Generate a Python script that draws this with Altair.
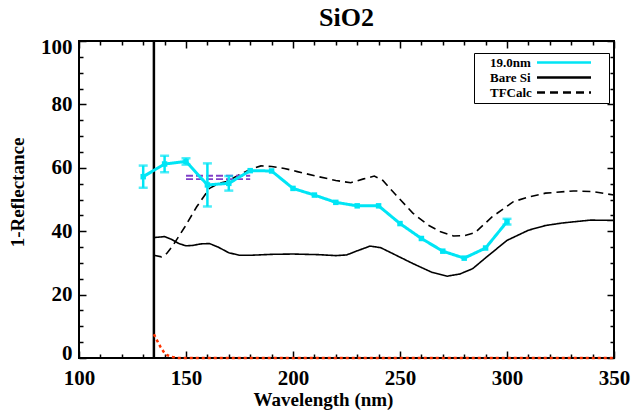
import altair as alt
import pandas as pd

FONT = "Liberation Serif"
W, H = 535, 317

# ---- data ----
series_names = ["19.0nm", "Bare Si", "TFCalc"]

meas_wl = [130, 140, 150, 160, 170, 180, 190, 200, 210, 220, 230, 240, 250, 260, 270, 280, 290, 300]
meas_val = [57.2, 61.2, 62.0, 54.6, 55.1, 59.1, 59.0, 53.5, 51.4, 49.1, 48.0, 48.0, 42.4, 37.7, 33.7, 31.5, 34.7, 43.0]
meas_err = [3.5, 2.6, 1.0, 6.8, 2.3, 0, 0, 0, 0, 0, 0, 0, 0, 0, 0, 0, 0, 0.9]

bare_wl = [135, 137, 140, 143, 147, 150, 153, 157, 161, 165, 170, 175, 180, 190, 200, 212, 220, 225,
           230, 236, 241, 250, 256, 265, 272, 278, 284, 290, 300, 310, 318, 326, 339, 350]
bare_val = [38.0, 38.1, 38.3, 37.5, 36.0, 35.4, 35.5, 36.0, 36.1, 35.0, 33.2, 32.4, 32.4, 32.7, 32.8, 32.6, 32.3, 32.5,
            33.8, 35.3, 34.8, 31.8, 29.8, 27.0, 25.8, 26.5, 28.2, 31.6, 37.1, 40.3, 41.8, 42.6, 43.5, 43.4]

tf_wl = [135, 138.5, 141, 144, 149.5, 155, 161, 165, 169, 175, 180, 185, 190, 196, 202, 212, 220, 227,
         233, 238, 242, 248, 256, 263, 269, 275, 280, 285, 293, 303, 310, 318, 331, 340, 350]
tf_val = [32.4, 31.9, 33.0, 35.6, 41.4, 47.7, 53.5, 55.0, 55.7, 57.8, 59.5, 60.6, 60.4, 59.8, 58.8, 57.2, 56.0, 55.3,
          56.5, 57.4, 56.0, 51.5, 45.7, 42.0, 39.8, 38.5, 38.6, 39.5, 44.5, 49.3, 50.8, 52.0, 52.7, 52.5, 51.4]

red_wl = [135, 136.5, 138, 139.5, 141, 143, 146, 350]
red_val = [7.5, 5.5, 3.6, 2.0, 1.0, 0.4, 0.0, 0.0]

purple_wl = [150, 180]
purple_hi = [57.5, 57.5]
purple_lo = [56.4, 56.4]

cutoff_wl = [135]

x_major = [100, 150, 200, 250, 300, 350]
x_minor = [110, 120, 130, 140, 160, 170, 180, 190, 210, 220, 230, 240, 260, 270, 280, 290, 310, 320, 330, 340]
y_major = [0, 20, 40, 60, 80, 100]
y_minor = [5, 10, 15, 25, 30, 35, 45, 50, 55, 65, 70, 75, 85, 90, 95]

# ---- tables ----
meas_df = pd.DataFrame({"wl": meas_wl, "val": meas_val, "err": meas_err, "series": series_names[0]})
meas_df["lo"] = meas_df["val"] - meas_df["err"]
meas_df["hi"] = meas_df["val"] + meas_df["err"]
err_df = meas_df[meas_df["err"] > 0]
bare_df = pd.DataFrame({"wl": bare_wl, "val": bare_val, "series": series_names[1]})
tf_df = pd.DataFrame({"wl": tf_wl, "val": tf_val, "series": series_names[2]})
red_df = pd.DataFrame({"wl": red_wl, "val": red_val})
purple_df = pd.concat([
    pd.DataFrame({"wl": purple_wl, "val": purple_hi, "edge": "hi"}),
    pd.DataFrame({"wl": purple_wl, "val": purple_lo, "edge": "lo"}),
])
cut_df = pd.DataFrame({"wl": cutoff_wl})

xs = alt.Scale(domain=[100, 350], nice=False, zero=False)
ys = alt.Scale(domain=[0, 100], nice=False, zero=False)


def tick_axis(orient, offset, values, size):
    return alt.Axis(orient=orient, offset=offset, values=values, tickSize=size, tickWidth=1.5,
                    tickColor="black", labels=False, domain=False, grid=False, title="")


x_label_axis = alt.Axis(orient="bottom", values=x_major, ticks=False, domain=False, grid=False,
                        labelPadding=9, labelFlush=False, title="Wavelength (nm)",
                        titleX=244, titleY=47, titleAlign="center", titleBaseline="alphabetic")
y_label_axis = alt.Axis(orient="left", values=y_major, ticks=False, domain=False, grid=False,
                        labelPadding=7, labelFlush=True, labelFlushOffset=5, title="1-Reflectance",
                        titleX=-56, titleY=151, titleAngle=270, titleAlign="center",
                        titleBaseline="alphabetic")

# legend: labels on the left, line samples on the right (drawn by a custom symbol path)
legend = alt.Legend(orient="none", legendX=395, legendY=12, title=None, strokeColor="black",
                    padding=3, symbolType="M53.5,0H107.5M117,0", symbolSize=4, symbolOffset=0,
                    symbolStrokeWidth=2.5, labelOffset=0, labelFont=FONT, labelFontSize=13,
                    labelFontWeight="bold", labelColor="black", rowPadding=1)
color_enc = alt.Color("series:N", scale=alt.Scale(domain=series_names, range=["#00e5f5", "black", "black"]),
                      legend=legend)
dash_enc = alt.StrokeDash("series:N", scale=alt.Scale(domain=series_names, range=[[1, 0], [1, 0], [8, 5]]),
                          legend=legend)

cut = alt.Chart(cut_df).mark_rule(color="black", strokeWidth=2.5).encode(
    x=alt.X("wl:Q", scale=xs, axis=x_label_axis),
    y=alt.value(0), y2=alt.value(H),
)
red = alt.Chart(red_df).mark_line(color="#ff3300", strokeWidth=2.5, strokeDash=[3, 3]).encode(
    x=alt.X("wl:Q", scale=xs, axis=None),
    y=alt.Y("val:Q", scale=ys, axis=y_label_axis),
)
bare = alt.Chart(bare_df).mark_line(strokeWidth=1.6).encode(
    x=alt.X("wl:Q", scale=xs, axis=tick_axis("top", -H, x_major, 7)),
    y=alt.Y("val:Q", scale=ys, axis=tick_axis("right", -W, y_major, 7)),
    color=color_enc, strokeDash=dash_enc,
)
tf = alt.Chart(tf_df).mark_line(strokeWidth=1.6).encode(
    x=alt.X("wl:Q", scale=xs, axis=tick_axis("top", -H, x_minor, 4)),
    y=alt.Y("val:Q", scale=ys, axis=tick_axis("right", -W, y_minor, 4)),
    color=color_enc, strokeDash=dash_enc,
)
purple = alt.Chart(purple_df).mark_line(color="#8040c8", strokeWidth=1.8, strokeDash=[7, 3]).encode(
    x=alt.X("wl:Q", scale=xs, axis=None),
    y=alt.Y("val:Q", scale=ys, axis=None),
    detail="edge:N",
)
meas = alt.Chart(meas_df).mark_line(strokeWidth=3).encode(
    x=alt.X("wl:Q", scale=xs, axis=tick_axis("bottom", -H, x_major, 7)),
    y=alt.Y("val:Q", scale=ys, axis=tick_axis("left", -W, y_major, 7)),
    color=color_enc, strokeDash=dash_enc,
)
pts = alt.Chart(meas_df).mark_square(size=30, color="#00e5f5", opacity=1).encode(
    x=alt.X("wl:Q", scale=xs, axis=tick_axis("bottom", -H, x_minor, 4)),
    y=alt.Y("val:Q", scale=ys, axis=tick_axis("left", -W, y_minor, 4)),
)
err_rule = alt.Chart(err_df).mark_rule(color="#00e5f5", strokeWidth=2.5).encode(
    x=alt.X("wl:Q", scale=xs, axis=None),
    y=alt.Y("lo:Q", scale=ys, axis=None),
    y2="hi:Q",
)
cap_lo = alt.Chart(err_df).mark_tick(color="#00e5f5", orient="horizontal", size=9, thickness=2.5).encode(
    x=alt.X("wl:Q", scale=xs, axis=None),
    y=alt.Y("lo:Q", scale=ys, axis=None),
)
cap_hi = alt.Chart(err_df).mark_tick(color="#00e5f5", orient="horizontal", size=9, thickness=2.5).encode(
    x=alt.X("wl:Q", scale=xs, axis=None),
    y=alt.Y("hi:Q", scale=ys, axis=None),
)

chart = alt.layer(cut, red, bare, tf, purple, meas, err_rule, cap_lo, cap_hi, pts).resolve_axis(
    x="independent", y="independent"
).properties(
    width=W, height=H,
    autosize=alt.AutoSizeParams(type="none"),
    padding={"left": 79, "top": 41, "right": 17, "bottom": 54},
    title=alt.TitleParams("SiO2", font=FONT, fontSize=26, fontWeight="bold", anchor="middle",
                          offset=5, color="black"),
).configure_view(
    stroke="black", strokeWidth=2
).configure_axis(
    labelFont=FONT, labelFontSize=21, labelFontWeight="bold", labelColor="black",
    titleFont=FONT, titleFontSize=19, titleFontWeight="bold", titleColor="black",
)

chart.save("out.html", embed_options={"renderer": "svg", "actions": False})
